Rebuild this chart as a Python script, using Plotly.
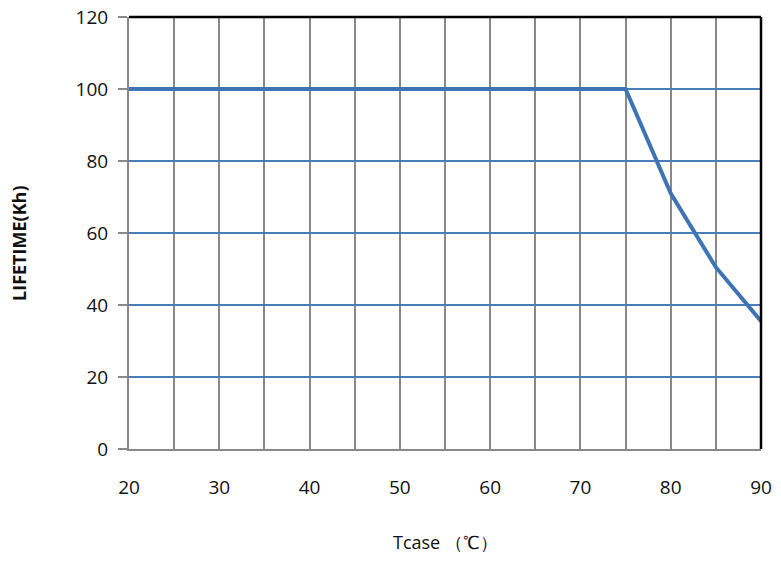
import plotly.graph_objects as go

tcase = [20, 75, 80, 85, 90]
lifetime = [100, 100, 71, 50.5, 35.5]

x_ticks = [20, 30, 40, 50, 60, 70, 80, 90]
y_ticks = [0, 20, 40, 60, 80, 100, 120]

fig = go.Figure()
fig.add_trace(go.Scatter(
    x=tcase, y=lifetime, mode="lines",
    line=dict(color="#3F74B4", width=4),
    showlegend=False,
))

# page body has an 8px margin, so margins are shifted to land on the reference
fig.update_layout(
    width=781, height=563,
    margin=dict(l=121, r=28, t=9, b=122),
    plot_bgcolor="white",
    paper_bgcolor="white",
    font=dict(family="Open Sans", size=19, color="#111"),
    xaxis=dict(
        range=[20, 90], tickvals=x_ticks,
        showgrid=True, gridcolor="#888888", gridwidth=2,
        minor=dict(dtick=5, showgrid=True, gridcolor="#888888", gridwidth=2),
        showline=True, linecolor="#888888", linewidth=2,
        ticks="", ticklabelstandoff=20, ticklabeloverflow="allow",
        zeroline=False, automargin=False,
    ),
    yaxis=dict(
        range=[0, 120], tickvals=y_ticks,
        showgrid=True, gridcolor="#4A7EBB", gridwidth=2,
        showline=True, linecolor="#888888", linewidth=2,
        ticks="outside", ticklen=9, tickcolor="#888888", tickwidth=2,
        ticklabelstandoff=6, ticklabeloverflow="allow",
        zeroline=False, automargin=False,
    ),
    shapes=[
        dict(type="line", xref="paper", yref="paper", x0=0, x1=1, y0=1, y1=1,
             line=dict(color="black", width=2.5)),
        dict(type="line", xref="paper", yref="paper", x0=1, x1=1, y0=0, y1=1,
             line=dict(color="black", width=2.5)),
    ],
    annotations=[
        dict(text="<b>LIFETIME(Kh)</b>", xref="paper", yref="paper", x=-0.174, y=0.477,
             xanchor="center", yanchor="middle", textangle=-90, showarrow=False,
             font=dict(size=18, family="Open Sans")),
        dict(text="Tcase （℃）", xref="paper", yref="paper", x=0.5, y=-0.215,
             xanchor="center", yanchor="middle", showarrow=False,
             font=dict(size=18, family="Open Sans")),
    ],
)

fig.write_html("out.html")
